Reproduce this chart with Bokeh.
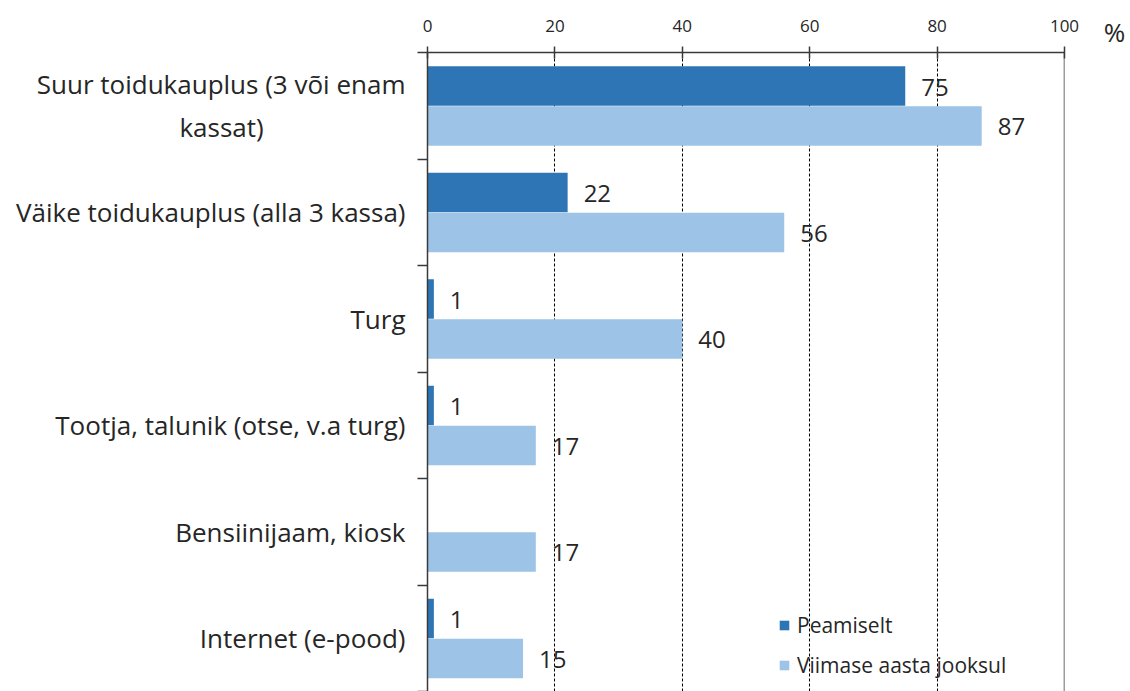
from bokeh.plotting import figure
from bokeh.models import (Range1d, ColumnDataSource, Span,
                          FixedTicker, LinearAxis, Legend, LegendItem)
from bokeh.layouts import row
from bokeh.transform import dodge
from bokeh.core.properties import value
from bokeh.embed import file_html
from bokeh.resources import INLINE

NB = "\u00a0"
categories = [
    "Suur toidukauplus (3 või enam\nkassat)" + NB * 21,
    "Väike toidukauplus (alla 3 kassa)",
    "Turg",
    "Tootja, talunik (otse, v.a turg)",
    "Bensiinijaam, kiosk",
    "Internet (e-pood)",
]
peamiselt = [75, 22, 1, 1, 0, 1]
viimase_aasta = [87, 56, 40, 17, 17, 15]
series_names = ["Peamiselt", "Viimase aasta jooksul"]
x_ticks = [0, 20, 40, 60, 80, 100]
unit_label = "%"

DARK = "#2E75B6"
LIGHT = "#9DC3E6"
FONT = "Open Sans"
TXT = "#262626"

n = len(categories)
pos = [n - 0.5 - i for i in range(n)]          # category centres, first on top
bounds = list(range(n + 1))                     # category boundaries

p = figure(width=1090, height=691, output_backend="svg", toolbar_location=None,
           y_range=Range1d(0, n), x_range=Range1d(0, 100),
           x_axis_location=None, y_axis_location=None,
           min_border_left=427, min_border_right=26, min_border_top=52,
           min_border_bottom=0)
p.outline_line_color = None

src_a = ColumnDataSource(dict(pos=pos, val=peamiselt,
                              lab=[str(v) if v else "" for v in peamiselt]))
src_b = ColumnDataSource(dict(pos=pos, val=viimase_aasta,
                              lab=[str(v) for v in viimase_aasta]))

r_a = p.hbar(y=dodge("pos", 0.185), left=0, right="val", height=0.37,
             source=src_a, fill_color=DARK, line_color=None)
r_b = p.hbar(y=dodge("pos", -0.19), left=0, right="val", height=0.37,
             source=src_b, fill_color=LIGHT, line_color=None)

for src, off in ((src_a, 0.185), (src_b, -0.19)):
    p.text(x="val", y=dodge("pos", off), text="lab", source=src,
           x_offset=16, y_offset=1, text_align="left", text_baseline="middle",
           text_font=value(FONT), text_font_size="24px", text_color=TXT)

# top axis
ax = LinearAxis(ticker=FixedTicker(ticks=x_ticks))
ax.axis_line_color = "#3a3a3a"
ax.axis_line_width = 1.5
ax.major_tick_line_color = "#3a3a3a"
ax.major_tick_line_width = 1.5
ax.major_tick_out = 6
ax.major_tick_in = 6
ax.minor_tick_line_color = None
ax.major_label_standoff = 15
ax.major_label_text_font = FONT
ax.major_label_text_font_size = "17px"
ax.major_label_text_color = TXT
p.add_layout(ax, "above")

# left axis: labels at centres, ticks at boundaries
ya = LinearAxis(ticker=FixedTicker(ticks=pos, minor_ticks=bounds))
ya.major_label_overrides = {pv: c for pv, c in zip(pos, categories)}
ya.axis_line_color = "#3a3a3a"
ya.axis_line_width = 1.5
ya.major_tick_line_color = None
ya.major_tick_out = 10
ya.major_tick_in = 0
ya.minor_tick_line_color = "#3a3a3a"
ya.minor_tick_line_width = 1.5
ya.minor_tick_out = 10
ya.minor_tick_in = 0
ya.major_label_standoff = 12
ya.major_label_text_font = FONT
ya.major_label_text_font_size = "26px"
ya.major_label_text_color = TXT
p.add_layout(ya, "left")

p.ygrid.grid_line_color = None
p.xgrid.ticker = FixedTicker(ticks=[20, 40, 60, 80])
p.xgrid.grid_line_color = "black"
p.xgrid.grid_line_dash = "3 2"
p.xgrid.grid_line_width = 1

p.add_layout(Span(location=100, dimension="height", line_color="#3a3a3a", line_width=1.5))

legend = Legend(items=[LegendItem(label=series_names[0], renderers=[r_a]),
                       LegendItem(label=series_names[1], renderers=[r_b])],
                location=(351, 12), orientation="vertical")
legend.background_fill_alpha = 0
legend.border_line_color = None
legend.padding = 0
legend.margin = 0
legend.spacing = 12
legend.glyph_width = 12
legend.glyph_height = 12
legend.label_standoff = 7
legend.label_text_font = FONT
legend.label_text_font_size = "21px"
legend.label_text_color = TXT
p.add_layout(legend)

# narrow strip to the right whose top axis carries the unit label
u = figure(width=40, height=691, output_backend="svg", toolbar_location=None,
           x_range=Range1d(0, 40), y_range=Range1d(0, 1),
           x_axis_location=None, y_axis_location=None,
           min_border_left=0, min_border_right=0, min_border_top=52,
           min_border_bottom=0)
u.outline_line_color = None
u.xgrid.visible = False
u.ygrid.visible = False
ua = LinearAxis(ticker=FixedTicker(ticks=[24]))
ua.major_label_overrides = {24: unit_label}
ua.axis_line_color = None
ua.major_tick_line_color = None
ua.minor_tick_line_color = None
ua.major_tick_out = 0
ua.major_tick_in = 0
ua.major_label_standoff = 3
ua.major_label_text_font = FONT
ua.major_label_text_font_size = "26px"
ua.major_label_text_color = TXT
u.add_layout(ua, "above")

layout = row(p, u, spacing=0)

open("out.html", "w").write(file_html(layout, INLINE))
